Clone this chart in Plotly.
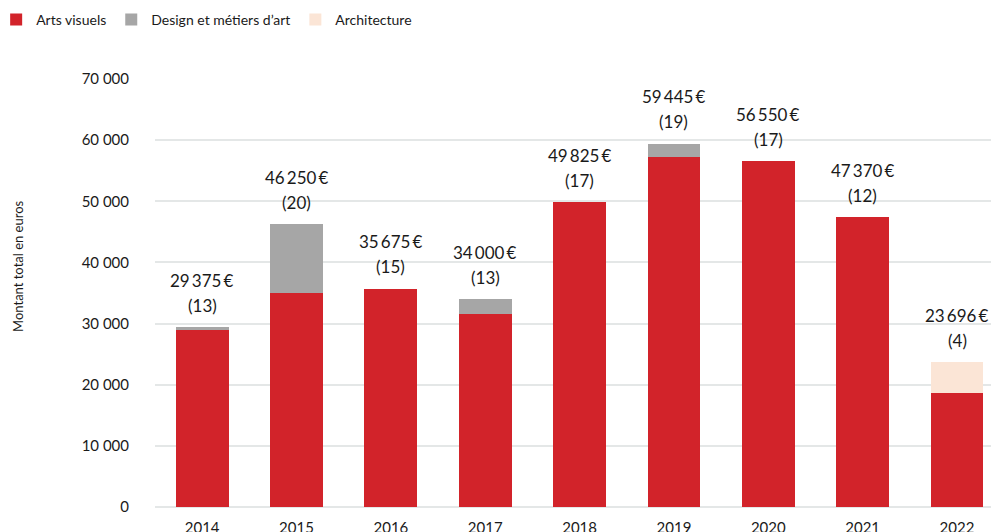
import plotly.graph_objects as go

annees = ["2014", "2015", "2016", "2017", "2018", "2019", "2020", "2021", "2022"]
arts_visuels = [28875, 35000, 35675, 31500, 49825, 57195, 56550, 47370, 18696]
design_metiers = [500, 11250, 0, 2500, 0, 2250, 0, 0, 0]
architecture = [0, 0, 0, 0, 0, 0, 0, 0, 5000]
totaux = [29375, 46250, 35675, 34000, 49825, 59445, 56550, 47370, 23696]
nb_projets = [13, 20, 15, 13, 17, 19, 17, 12, 4]
y_ticks = [0, 10000, 20000, 30000, 40000, 50000, 60000, 70000]

FONT = "Lato"
TXT = "#1a1a1a"
THIN = "\u2009"


def fmt_euros(v):
    return f"{v:,}".replace(",", THIN) + THIN + "€"


fig = go.Figure()
fig.add_trace(go.Bar(x=annees, y=arts_visuels, name="Arts visuels",
                     marker=dict(color="#D2232A", line=dict(width=0))))
fig.add_trace(go.Bar(x=annees, y=design_metiers, name="Design et métiers d’art",
                     marker=dict(color="#A6A6A6", line=dict(width=0))))
fig.add_trace(go.Bar(x=annees, y=architecture, name="Architecture",
                     marker=dict(color="#FBE5D6", line=dict(width=0))))

# libellés au-dessus des barres : montant total puis nombre de projets
# (x = index de catégorie, sinon "2014" est lu comme un nombre)
annots = []
for i, (tot, n) in enumerate(zip(totaux, nb_projets)):
    annots.append(dict(x=i, y=tot, xref="x", yref="y", text=fmt_euros(tot),
                       showarrow=False, yanchor="middle", yshift=47,
                       font=dict(family=FONT, size=17, color=TXT)))
    annots.append(dict(x=i, y=tot, xref="x", yref="y", text=f"({n})",
                       showarrow=False, yanchor="middle", yshift=22,
                       font=dict(family=FONT, size=17, color=TXT)))

annots.append(dict(text="Montant total en euros", xref="paper", yref="paper",
                   x=-0.164, y=0.563, textangle=-90, showarrow=False,
                   xanchor="center", yanchor="middle",
                   font=dict(family=FONT, size=13, color=TXT)))

fig.update_layout(
    width=991,
    height=532,
    barmode="stack",
    bargap=0.44,
    plot_bgcolor="white",
    paper_bgcolor="white",
    margin=dict(l=155, r=0, t=79, b=25, autoexpand=False),
    font=dict(family=FONT, color=TXT),
    annotations=annots,
    legend=dict(orientation="h", x=-0.19, y=1.138, xanchor="left",
                yanchor="middle", font=dict(family=FONT, size=14, color=TXT),
                traceorder="normal"),
    xaxis=dict(type="category", range=[-0.5, 8.36], showgrid=False,
               showline=False, zeroline=False, ticks="", automargin=False,
               ticklabelstandoff=10,
               tickfont=dict(family=FONT, size=15, color=TXT)),
    yaxis=dict(range=[0, 70000], tickvals=y_ticks,
               ticktext=[f"{v:,}".replace(",", " ") for v in y_ticks],
               showgrid=True, gridcolor="#E4E7E7", gridwidth=2,
               zeroline=True, zerolinecolor="#E4E7E7", zerolinewidth=2,
               showline=False, ticks="outside", ticklen=22,
               tickcolor="rgba(0,0,0,0)", automargin=False,
               tickfont=dict(family=FONT, size=15, color=TXT)),
)

# la page HTML ajoute une marge de 8 px autour du graphique : on l'enlève
fig.write_html("out.html", config={"displayModeBar": False},
               post_script="document.body.style.margin='0';document.body.style.overflow='hidden';")
